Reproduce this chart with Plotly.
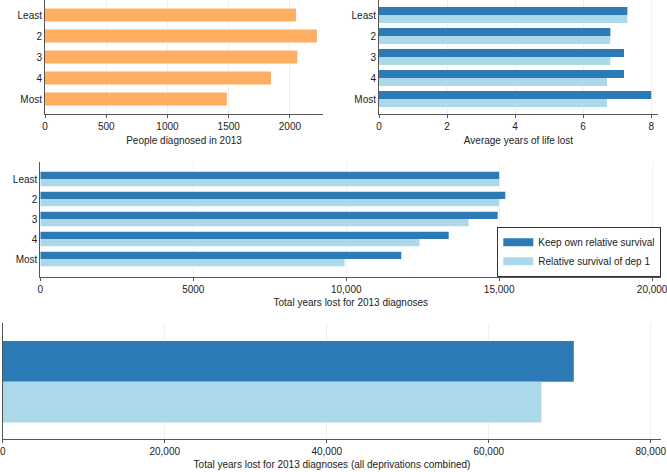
# Years of life lost by deprivation group, four-panel bar chart

import plotly.graph_objects as go

groups = ["Least", "2", "3", "4", "Most"]
diagnosed = [2050, 2220, 2060, 1845, 1485]
avg_own = [7.3, 6.8, 7.2, 7.2, 8.0]
avg_dep1 = [7.3, 6.8, 6.8, 6.7, 6.7]
total_own = [15000, 15200, 14950, 13350, 11800]
total_dep1 = [15000, 15000, 14000, 12400, 9950]
combined_label = ["All"]
combined_own = [70500]
combined_dep1 = [66500]

ORANGE = "#FDAE61"
DARK = "#2C7BB6"
LIGHT = "#ABD9E9"
AXIS = "#555555"
GRID = "#F0F0F0"
FONT = dict(family="Liberation Sans, Arial, sans-serif", size=10, color="#222222")

W, H = 667, 472


def xdom(a, b):
    return [a / W, b / W]


def ydom(top, bottom):
    return [1 - bottom / H, 1 - top / H]


fig = go.Figure()

# panel 1: people diagnosed
fig.add_trace(go.Bar(x=diagnosed, y=groups, orientation="h", marker_color=ORANGE,
                     width=0.62, xaxis="x", yaxis="y", showlegend=False))

# panel 2: average years lost
fig.add_trace(go.Bar(x=avg_own, y=groups, orientation="h", marker_color=DARK,
                     width=0.38, offset=-0.38, xaxis="x2", yaxis="y2", showlegend=False))
fig.add_trace(go.Bar(x=avg_dep1, y=groups, orientation="h", marker_color=LIGHT,
                     width=0.38, offset=0, xaxis="x2", yaxis="y2", showlegend=False))

# panel 3: total years lost
fig.add_trace(go.Bar(x=total_own, y=groups, orientation="h", marker_color=DARK,
                     width=0.365, offset=-0.365, xaxis="x3", yaxis="y3", showlegend=False))
fig.add_trace(go.Bar(x=total_dep1, y=groups, orientation="h", marker_color=LIGHT,
                     width=0.365, offset=0, xaxis="x3", yaxis="y3", showlegend=False))

# panel 4: all deprivations combined
fig.add_trace(go.Bar(x=combined_own, y=combined_label, orientation="h", marker_color=DARK,
                     width=0.35, offset=-0.35, xaxis="x4", yaxis="y4", showlegend=False))
fig.add_trace(go.Bar(x=combined_dep1, y=combined_label, orientation="h", marker_color=LIGHT,
                     width=0.35, offset=0, xaxis="x4", yaxis="y4", showlegend=False))

# legend entries (wide swatches)
fig.add_trace(go.Scatter(x=[None], y=[None], mode="lines", line=dict(color=DARK, width=8),
                         name="Keep own relative survival", xaxis="x3", yaxis="y3"))
fig.add_trace(go.Scatter(x=[None], y=[None], mode="lines", line=dict(color=LIGHT, width=8),
                         name="Relative survival of dep 1", xaxis="x3", yaxis="y3"))


def xax(domain, anchor, rng, title, tickvals, ticktext):
    return dict(domain=domain, anchor=anchor, range=rng, showline=True, linecolor=AXIS,
                linewidth=1, ticks="outside", ticklen=3, tickcolor=AXIS, showgrid=True,
                gridcolor=GRID, gridwidth=1, zeroline=False, tickfont=FONT,
                tickvals=tickvals, ticktext=ticktext, automargin=False,
                ticklabeloverflow="allow",
                title=dict(text=title, font=FONT, standoff=5), fixedrange=True)


def yax(domain, anchor, rng, labels=True):
    return dict(domain=domain, anchor=anchor, range=rng, type="category", showline=True,
                linecolor=AXIS, linewidth=1, ticks="", showgrid=False, zeroline=False,
                tickfont=FONT, showticklabels=labels, automargin=False, fixedrange=True)


fig.update_layout(
    template="none",
    width=W, height=H,
    margin=dict(l=0, r=0, t=0, b=0),
    paper_bgcolor="white", plot_bgcolor="white",
    font=FONT,
    barmode="overlay",
    hovermode=False,
    xaxis=xax(xdom(45, 323), "y", [0, 2270], "People diagnosed in 2013",
              [0, 500, 1000, 1500, 2000], ["0", "500", "1000", "1500", "2000"]),
    yaxis=yax(ydom(0, 114), "x", [4.714, -0.714]),
    xaxis2=xax(xdom(379, 658), "y2", [0, 8.2], "Average years of life lost",
               [0, 2, 4, 6, 8], ["0", "2", "4", "6", "8"]),
    yaxis2=yax(ydom(0, 114), "x2", [4.714, -0.714]),
    xaxis3=xax(xdom(40.3, 661.3), "y3", [0, 20300], "Total years lost for 2013 diagnoses",
               [0, 5000, 10000, 15000, 20000], ["0", "5000", "10,000", "15,000", "20,000"]),
    yaxis3=yax(ydom(162, 276.7), "x3", [4.885, -0.85]),
    xaxis4=xax(xdom(2.7, 661.3), "y4", [0, 81300],
               "Total years lost for 2013 diagnoses (all deprivations combined)",
               [0, 20000, 40000, 60000, 80000], ["0", "20,000", "40,000", "60,000", "80,000"]),
    yaxis4=yax(ydom(323, 438.7), "x4", [0.49, -0.505], labels=False),
    legend=dict(x=661.3 / W, y=1 - 276.7 / H, xanchor="right", yanchor="bottom",
                bgcolor="white", bordercolor="#333333", borderwidth=1,
                font=FONT, tracegroupgap=0, itemwidth=30),
)

# page body margin would push the fixed-size figure 8px off the window
fig.write_html("out.html", config={"displayModeBar": False},
               post_script="document.body.style.margin='0';")
